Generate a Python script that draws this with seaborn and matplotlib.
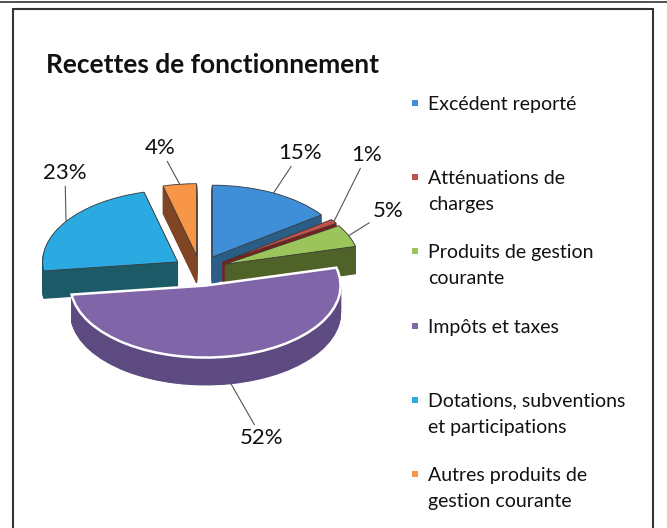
import matplotlib.pyplot as plt
import seaborn as sns
from matplotlib.lines import Line2D
from matplotlib.patches import Rectangle
import numpy as np

# data
categories = [
    "Excédent reporté",
    "Atténuations de\ncharges",
    "Produits de gestion\ncourante",
    "Impôts et taxes",
    "Dotations, subventions\net participations",
    "Autres produits de\ngestion courante",
]
shares = [15, 1, 5, 52, 23, 4]
pct_labels = ["15%", "1%", "5%", "52%", "23%", "4%"]

# style
top_colors = ["#3F8FD8", "#C0504D", "#9BC45A", "#8066A8", "#2BAAE2", "#F79646"]
side_colors = ["#2B5E86", "#7A1F1C", "#4F6228", "#5C4A80", "#1D5A68", "#7F4525"]
explode = [0.2, 0.2, 0.2, 0.22, 0.2, 0.2]
label_px = [(300, 153), (367, 155), (388, 211), (262, 438), (65, 173), (160, 148)]

sns.set_theme(style="white")
plt.rcParams["font.family"] = ["Lato", "DejaVu Sans"]

W, H = 667, 528
fig = plt.figure(figsize=(W / 100, H / 100), dpi=100)
fig.patch.set_facecolor("white")


def fx(px):
    return px / W


def fy(py):
    return 1 - py / H


# frame of the scanned chart
fig.add_artist(Line2D([0, 1], [fy(1.5), fy(1.5)], transform=fig.transFigure, color="#333333", lw=1.2))
fig.add_artist(Rectangle((fx(13), fy(540)), fx(653) - fx(13), fy(9) - fy(540),
                         transform=fig.transFigure, fill=False, ec="#333333", lw=1.5))

fig.text(fx(46), fy(65), "Recettes de fonctionnement", fontsize=19, fontweight="bold",
         ha="left", va="center", color="#111111")

ax = fig.add_axes([fx(10), fy(405), 380 / W, 270 / H])
depth = 0.38
n_layers = 30
for k in range(n_layers, 0, -1):
    side, _ = ax.pie(shares, explode=explode, colors=side_colors, startangle=90, counterclock=False,
                     center=(0, -depth * k / n_layers), wedgeprops=dict(linewidth=0.8))
    for w in side:
        w.set_edgecolor(w.get_facecolor())
wedges, _ = ax.pie(shares, explode=explode, colors=top_colors, startangle=90, counterclock=False,
                   wedgeprops=dict(linewidth=0.6, edgecolor="#3a3a3a"))
wedges[3].set_edgecolor("white")
wedges[3].set_linewidth(1.8)

ax.set_aspect("auto")
ax.set_xlim(-190 / 135, 190 / 135)
ax.set_ylim(-135 / 72, 135 / 72)
ax.axis("off")

for w, txt, (px, py) in zip(wedges, pct_labels, label_px):
    mid = np.deg2rad((w.theta1 + w.theta2) / 2)
    cx, cy = w.center
    ax_pt = (cx + w.r * np.cos(mid), cy + w.r * np.sin(mid))
    if np.sin(mid) < -0.5:
        ax_pt = (ax_pt[0], ax_pt[1] - depth)
    ax.annotate(txt, xy=ax_pt, xycoords="data", xytext=(fx(px), fy(py)), textcoords="figure fraction",
                ha="center", va="center", fontsize=16, color="#111111",
                arrowprops=dict(arrowstyle="-", color="#555555", lw=0.8, shrinkA=0, shrinkB=0))

# legend, Excel style: one slot per entry, marker on first line
leg_top, leg_step = 103, 74.2
for i, (lab, col) in enumerate(zip(categories, top_colors)):
    y = leg_top + i * leg_step
    fig.add_artist(Rectangle((fx(412), fy(y + 3)), 6 / W, 6 / H, transform=fig.transFigure,
                             fc=col, ec="none"))
    fig.text(fx(428), fy(y - 7), lab, fontsize=14, ha="left", va="top", linespacing=1.65,
             color="#111111")

fig.savefig("out.png", dpi=100)
